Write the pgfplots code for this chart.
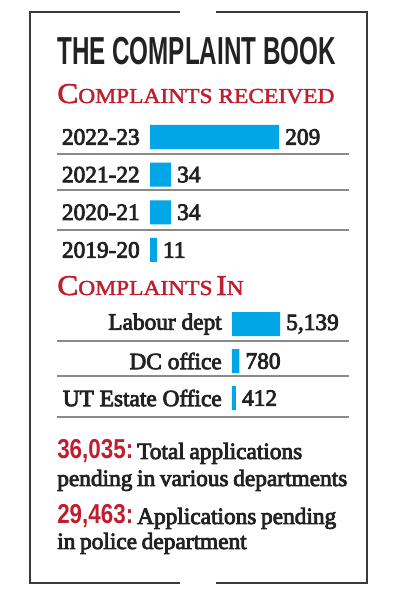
\documentclass[border=0pt]{standalone}
\usepackage{pgfplots}
\pgfplotsset{compat=1.18}
\usepackage{fontspec}
\setmainfont{Liberation Serif}
\newfontfamily\semib[FakeBold=3.5]{Liberation Serif}
\newfontfamily\titlefont[FakeStretch=0.62]{Liberation Sans}
\newfontfamily\numfont[FakeStretch=0.82]{Liberation Sans}
\newfontfamily\redfont[FakeStretch=1.1,FakeBold=2]{Liberation Serif}
\definecolor{barblue}{HTML}{00A6E6}
\definecolor{hred}{HTML}{BE1E2D}
\definecolor{framec}{HTML}{3A3A3A}
\definecolor{textc}{HTML}{222222}
\definecolor{sepc}{HTML}{8A8A8A}
\newcommand{\bigc}[1]{{\fontsize{21.5}{21}\selectfont #1}}
\newcommand{\smc}[1]{{\fontsize{16}{16}\selectfont #1}}
\newcommand{\lblfont}{\semib\fontsize{17.5}{17.5}\selectfont\color{textc}}
\newcommand{\bodyfont}{\semib\fontsize{17.5}{17.5}\selectfont\spaceskip=0.2em plus 0.05em minus 0.05em\color{textc}}
\newcommand{\rednum}[1]{{\numfont\bfseries\fontsize{20.5}{20.5}\selectfont\color{hred}#1}}
\begin{document}
\begin{tikzpicture}[x=0.75pt,y=0.75pt]
\path[use as bounding box] (0,0) rectangle (396,600);
% frame
\draw[framec, line width=1.1pt] (180,588) -- (30,588) -- (30,17) -- (180,17);
\draw[framec, line width=1.1pt] (216,588) -- (367,588) -- (367,17) -- (216,17);
% title
\node[anchor=base west, inner sep=0pt, text=textc] at (57,535) {\titlefont\bfseries\fontsize{29.3}{30}\selectfont THE COMPLAINT BOOK};
\node[anchor=base west, inner sep=0pt, text=hred] at (57,497) {\redfont\bigc{C}\smc{OMPLAINTS RECEIVED}};
\node[anchor=base west, inner sep=0pt, text=hred] at (57,305) {\redfont\bigc{C}\smc{OMPLAINTS} \bigc{I}\smc{N}};
% separators
\foreach \yy in {446,410,370,259,224,183} {
  \draw[sepc, line width=0.8pt] (57,\yy) -- (349,\yy);
}
% section 1
\begin{axis}[at={(112.5pt,248.4pt)}, anchor=south west, scale only axis,
  width=96.75pt, height=113pt, xbar, bar width=18pt,
  xmin=0, xmax=209, ymin=-0.5, ymax=3.5, clip=false,
  axis line style={draw=none}, major tick length=0pt, xtick=\empty,
  ytick={0,1,2,3}, yticklabels={2019-20,2020-21,2021-22,2022-23},
  yticklabel style={font=\lblfont, inner sep=0pt, anchor=east, xshift=-7.5pt},
  point meta=explicit symbolic, nodes near coords,
  nodes near coords style={anchor=west, inner sep=0pt, xshift=4.5pt, font=\lblfont}]
\addplot[fill=barblue, draw=none] coordinates {(11,0)[11] (34,1)[34] (34,2)[34] (209,3)[209]};
\end{axis}
% section 2
\begin{axis}[at={(174pt,137.6pt)}, anchor=south west, scale only axis,
  width=36pt, height=83.25pt, xbar, bar width=18pt,
  xmin=0, xmax=5139, ymin=-0.5, ymax=2.5, clip=false,
  axis line style={draw=none}, major tick length=0pt, xtick=\empty,
  ytick={0,1,2}, yticklabels={UT Estate Office,DC office,Labour dept},
  yticklabel style={font=\lblfont, inner sep=0pt, anchor=east, xshift=-7.5pt},
  point meta=explicit symbolic, nodes near coords,
  nodes near coords style={anchor=west, inner sep=0pt, xshift=4.5pt, font=\lblfont}]
\addplot[fill=barblue, draw=none] coordinates {(412,0)[412] (780,1)[780] (5139,2)[{5,139}]};
\end{axis}
% bottom text
\node[anchor=base west, inner sep=0pt] at (57,141) {\rednum{36,035:}\bodyfont\,Total applications};
\node[anchor=base west, inner sep=0pt] at (57,114) {\bodyfont pending in various departments};
\node[anchor=base west, inner sep=0pt] at (57,76) {\rednum{29,463:}\bodyfont\,Applications pending};
\node[anchor=base west, inner sep=0pt] at (57,51) {\bodyfont in police department};
\end{tikzpicture}
\end{document}
